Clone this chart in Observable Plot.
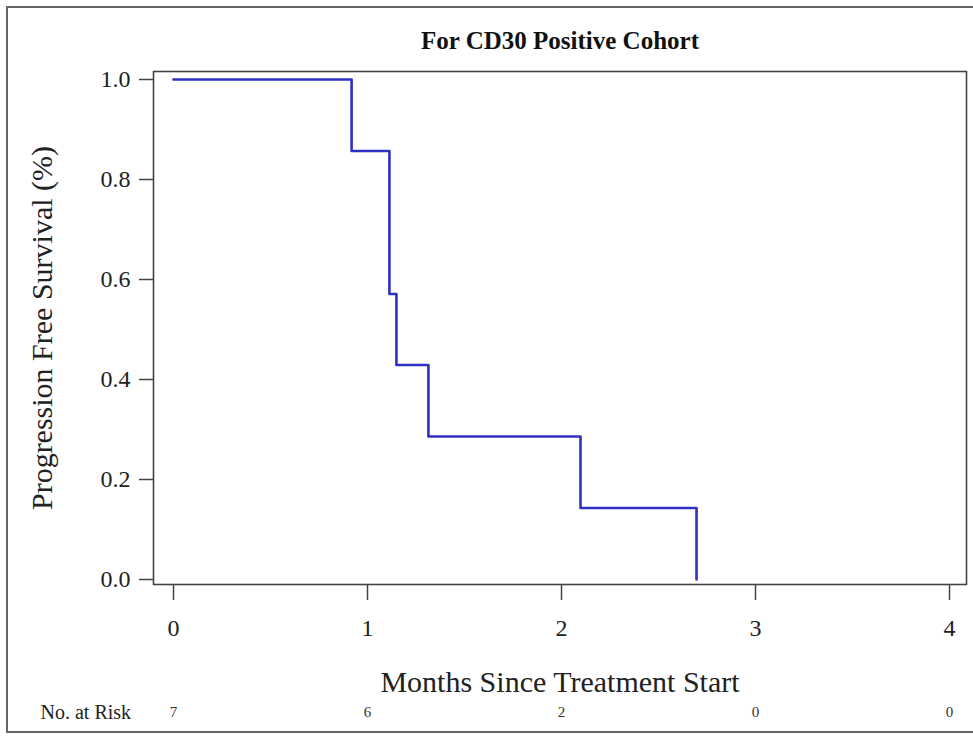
<!DOCTYPE html>
<html>
<head>
<meta charset="utf-8">
<script src="https://cdn.jsdelivr.net/npm/d3@7"></script>
<script src="https://cdn.jsdelivr.net/npm/@observablehq/plot@0.6"></script>
<style>
  html, body { margin: 0; padding: 0; background: #fff; overflow: hidden; }
  #wrap { position: relative; width: 973px; height: 736px; }
  #border { position: absolute; left: 6px; top: 6px; width: 990px; height: 727px; border: 2px solid #666; box-sizing: border-box; }
  #chart { position: absolute; left: 0; top: 0; }
  #chart svg text { font-family: 'Liberation Serif', 'Times New Roman', serif; }
</style>
</head>
<body>
<div id="wrap"><div id="chart"></div><div id="border"></div></div>
<script>
const title = "For CD30 Positive Cohort";
const xLabel = "Months Since Treatment Start";
const yLabel = "Progression Free Survival (%)";
const riskLabel = "No. at Risk";

const times = [0, 0.918, 1.113, 1.149, 1.314, 2.098, 2.696];
const survival = [1.0, 0.857, 0.571, 0.429, 0.286, 0.143, 0.0];

const xTicks = [0, 1, 2, 3, 4];
const yTicks = [0, 0.2, 0.4, 0.6, 0.8, 1.0];
const riskTimes = [0, 1, 2, 3, 4];
const riskCounts = [7, 6, 2, 0, 0];

const curve = times.map((t, i) => ({t, s: survival[i]}));
const font = "'Liberation Serif', 'Times New Roman', serif";

const chart = Plot.plot({
  width: 973,
  height: 736,
  marginLeft: 153,
  marginRight: 7,
  marginTop: 71,
  marginBottom: 152,
  style: {fontFamily: font, color: "#222", background: "white"},
  x: {domain: [0, 4], insetLeft: 20, insetRight: 17},
  y: {domain: [0, 1], insetTop: 8, insetBottom: 5},
  marks: [
    Plot.frame({stroke: "#444", strokeWidth: 1.6}),
    Plot.axisY({ticks: yTicks, tickFormat: d3.format(".1f"), tickSize: 14, tickPadding: 9, fontSize: 24, fontFamily: font, label: null, stroke: "#444", strokeWidth: 1.5}),
    Plot.axisX({ticks: xTicks, tickFormat: d3.format("d"), tickSize: 16, tickPadding: 18, fontSize: 24, fontFamily: font, label: null, stroke: "#444", strokeWidth: 1.5}),
    Plot.line(curve, {x: "t", y: "s", curve: "step-after", stroke: "#3030c4", strokeWidth: 2.6}),
    Plot.text([title], {frameAnchor: "top", dy: -31, lineAnchor: "middle", fontSize: 25, fontWeight: "bold", fontFamily: font, fill: "#111"}),
    Plot.text([xLabel], {frameAnchor: "bottom", dy: 98, lineAnchor: "middle", fontSize: 30, fontFamily: font, fill: "#222"}),
    Plot.text([yLabel], {frameAnchor: "left", dx: -111, rotate: -90, textAnchor: "middle", lineAnchor: "middle", fontSize: 30, fontFamily: font, fill: "#222"}),
    Plot.text([riskLabel], {frameAnchor: "bottom-left", dx: -113, dy: 128, textAnchor: "start", lineAnchor: "middle", fontSize: 20, fontFamily: font, fill: "#222"}),
    Plot.text(riskTimes, {x: d => d, text: (d, i) => String(riskCounts[i]), frameAnchor: "bottom", dy: 128, lineAnchor: "middle", fontSize: 15, fontFamily: font, fill: "#333"})
  ]
});
document.getElementById("chart").appendChild(chart);
</script>
</body>
</html>
